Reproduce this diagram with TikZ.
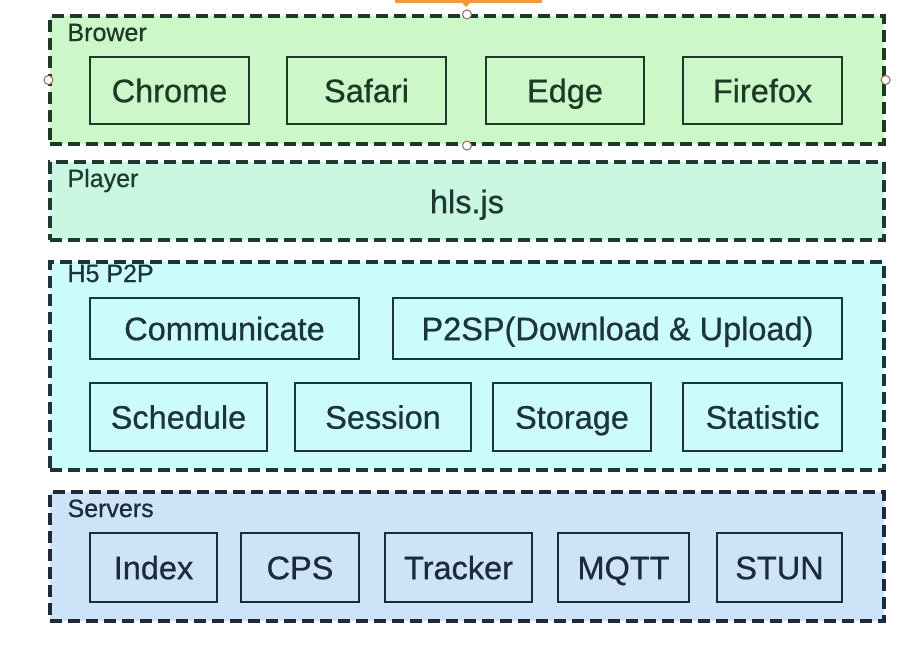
\documentclass[tikz,border=0pt]{standalone}
\usepackage{fontspec}
\setmainfont{Liberation Sans}[FakeBold=0.7]
\usetikzlibrary{positioning}
\definecolor{BG}{HTML}{CCF7C9}
\definecolor{PG}{HTML}{C9F7E1}
\definecolor{HC}{HTML}{CCFCFA}
\definecolor{SB}{HTML}{CDE3F8}
\definecolor{BT}{HTML}{1E3A26}
\definecolor{PT}{HTML}{1F3A34}
\definecolor{HT}{HTML}{1C343A}
\definecolor{ST}{HTML}{1C2A3A}
\definecolor{OR}{HTML}{F39A3A}
\definecolor{HD}{HTML}{8B6B5B}
\tikzset{
  layer/.style={draw=#1, line width=3.2pt, dash pattern=on 12pt off 6pt,
    minimum width=834pt, inner sep=0pt},
  layertag/.style={anchor=base west, text=#1, font=\fontsize{25}{25}\selectfont},
  unitbox/.style={draw=#1, line width=2.8pt, text=#1, inner sep=0pt,
    text height=23.3pt, text depth=0pt, font=\fontsize{32.5}{32.5}\selectfont},
  handle/.style={circle, draw=HD, fill=white, line width=1pt,
    minimum size=9pt, inner sep=0pt}
}

\begin{document}
\begin{tikzpicture}[x=1pt, y=-1pt]

    \useasboundingbox (0,0) rectangle (909,651);

    %% ── layers ───────────────────────────────────────
    \node[layer=BT, fill=BG, minimum height=128pt] (brower) at (467,80) {};
    \node[layer=PT, fill=PG, minimum height=78pt] (player) at (467,201) {};
    \node[layer=HT, fill=HC, minimum height=208pt] (hfive) at (467,366) {};
    \node[layer=ST, fill=SB, minimum height=129pt] (servers) at (467,556.5) {};

    \node[layertag=BT] (browertag) at (64,41) {Brower};
    \node[layertag=PT] (playertag) at (64,187) {Player};
    \node[layertag=HT] (hfivetag) at (64,282) {H5 P2P};
    \node[layertag=ST] (serverstag) at (64,517) {Servers};

    %% ── browsers ─────────────────────────────────────
    \foreach \nm/\cx/\bw in {Chrome/169.5/159, Safari/366.5/159,
                             Edge/565/158, Firefox/762.5/159}{
      \node[unitbox=BT, minimum width=\bw pt, minimum height=67pt]
        (b-\nm) at (\cx,90.5) {\nm};
    }

    %% ── player ───────────────────────────────────────
    \node[text=PT, font=\fontsize{32.5}{32.5}\selectfont,
          text height=23.3pt, text depth=0pt, inner sep=0pt]
      (hls) at (467,201.5) {hls.js};

    %% ── h5 p2p modules ───────────────────────────────
    \node[unitbox=HT, minimum width=269pt, minimum height=61pt]
      (communicate) at (224.5,328.5) {Communicate};
    \node[unitbox=HT, minimum width=449pt, minimum height=61pt]
      (ptwosp) at (617.5,328.5) {P2SP(Download \& Upload)};
    \foreach \nm/\cx/\bw in {Schedule/178.5/177, Session/383/176,
                             Storage/572/158, Statistic/762.5/159}{
      \node[unitbox=HT, minimum width=\bw pt, minimum height=68pt]
        (h-\nm) at (\cx,417) {\nm};
    }

    %% ── servers ──────────────────────────────────────
    \foreach \nm/\cx/\bw in {Index/153.5/127, CPS/300/118, Tracker/458.5/147,
                             MQTT/623.5/131, STUN/779.5/125}{
      \node[unitbox=ST, minimum width=\bw pt, minimum height=69pt]
        (s-\nm) at (\cx,567.5) {\nm};
    }

    %% ── selection handles ────────────────────────────
    \fill[OR] (395,0) rectangle (542,3);
    \fill[OR] (462,3) -- (470,3) -- (466,7) -- cycle;
    \node[handle] (hn) at (brower.north) {};
    \node[handle] (hs) at (brower.south) {};
    \node[handle] (hw) at (brower.west) {};
    \node[handle] (he) at (brower.east) {};

  \end{tikzpicture}
\end{document}
